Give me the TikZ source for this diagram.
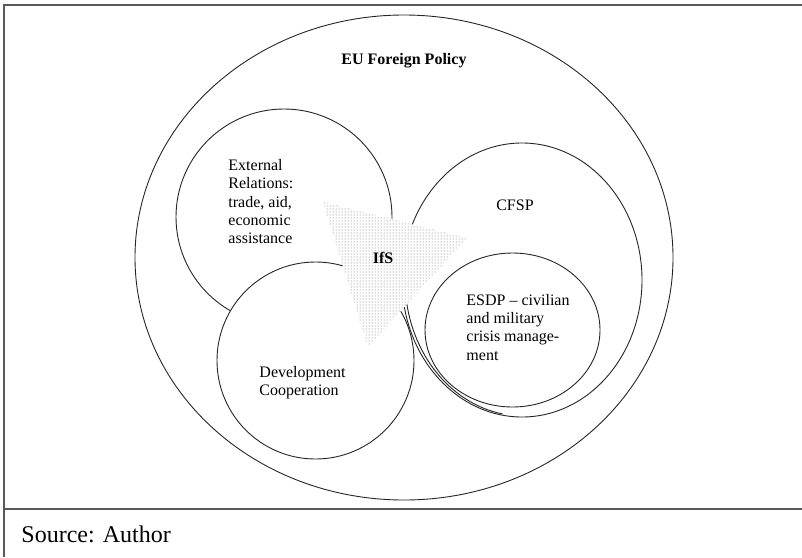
\documentclass[tikz,border=0pt]{standalone}
\usepackage{fontspec}
\setmainfont{Liberation Serif}
\usepackage{tikz}
\usetikzlibrary{patterns}

\begin{document}
\begin{tikzpicture}[x=1pt, y=-1pt, line width=0.9pt,
  every node/.style={font=\fontsize{16}{18.3}\selectfont, inner sep=0pt},
  heading/.style={font=\fontsize{16}{18.3}\selectfont\bfseries},
  sphere/.style={draw=black!85},
  framerule/.style={draw=black!65, line width=1.6pt}]
  \useasboundingbox (0,0) rectangle (802,557);
  % frame of the figure
  \draw[framerule] (802,5) -- (4,5) -- (4,557);
  \draw[framerule] (4,509) -- (802,509);
  % policy fields
  \draw[sphere, fill=white] (404,257.5) ellipse [x radius=269, y radius=242.5];
  \draw[sphere] (284,217) circle [radius=108];
  \draw[sphere, fill=white] (315.5,360.5) circle [radius=98.5];
  \draw[sphere] (522,280) ellipse [x radius=120, y radius=137];
  \draw[sphere] (523,280) ++(175:118 and 136) arc [start angle=175, end angle=100, x radius=118, y radius=136];
  \draw[sphere] (512.5,330) ellipse [x radius=87.5, y radius=77];
  % IfS triangle
  \fill[white] (323,202) -- (467,238) -- (368,347) -- cycle;
  \fill[pattern=dots, pattern color=black!60] (323,202) -- (467,238) -- (368,347) -- cycle;
  % labels
  \node[heading, anchor=base] (eu) at (404,64) {EU Foreign Policy};
  \node[anchor=west, align=left] (extrel) at (228,201.6) {External\\Relations:\\trade, aid,\\economic\\assistance};
  \node[anchor=west, align=left] (devco) at (259,382.7) {Development\\Cooperation};
  \node[anchor=base] (cfsp) at (515,210.3) {CFSP};
  \node[anchor=west, align=left] (esdp) at (466,327.3) {ESDP -- civilian\\and military\\crisis manage-\\ment};
  \node[heading, anchor=base] (ifs) at (383,263.3) {IfS};
  \node[font=\fontsize{24}{28}\selectfont, anchor=base west] (source) at (21,542) {Source: Author};
\end{tikzpicture}
\end{document}
